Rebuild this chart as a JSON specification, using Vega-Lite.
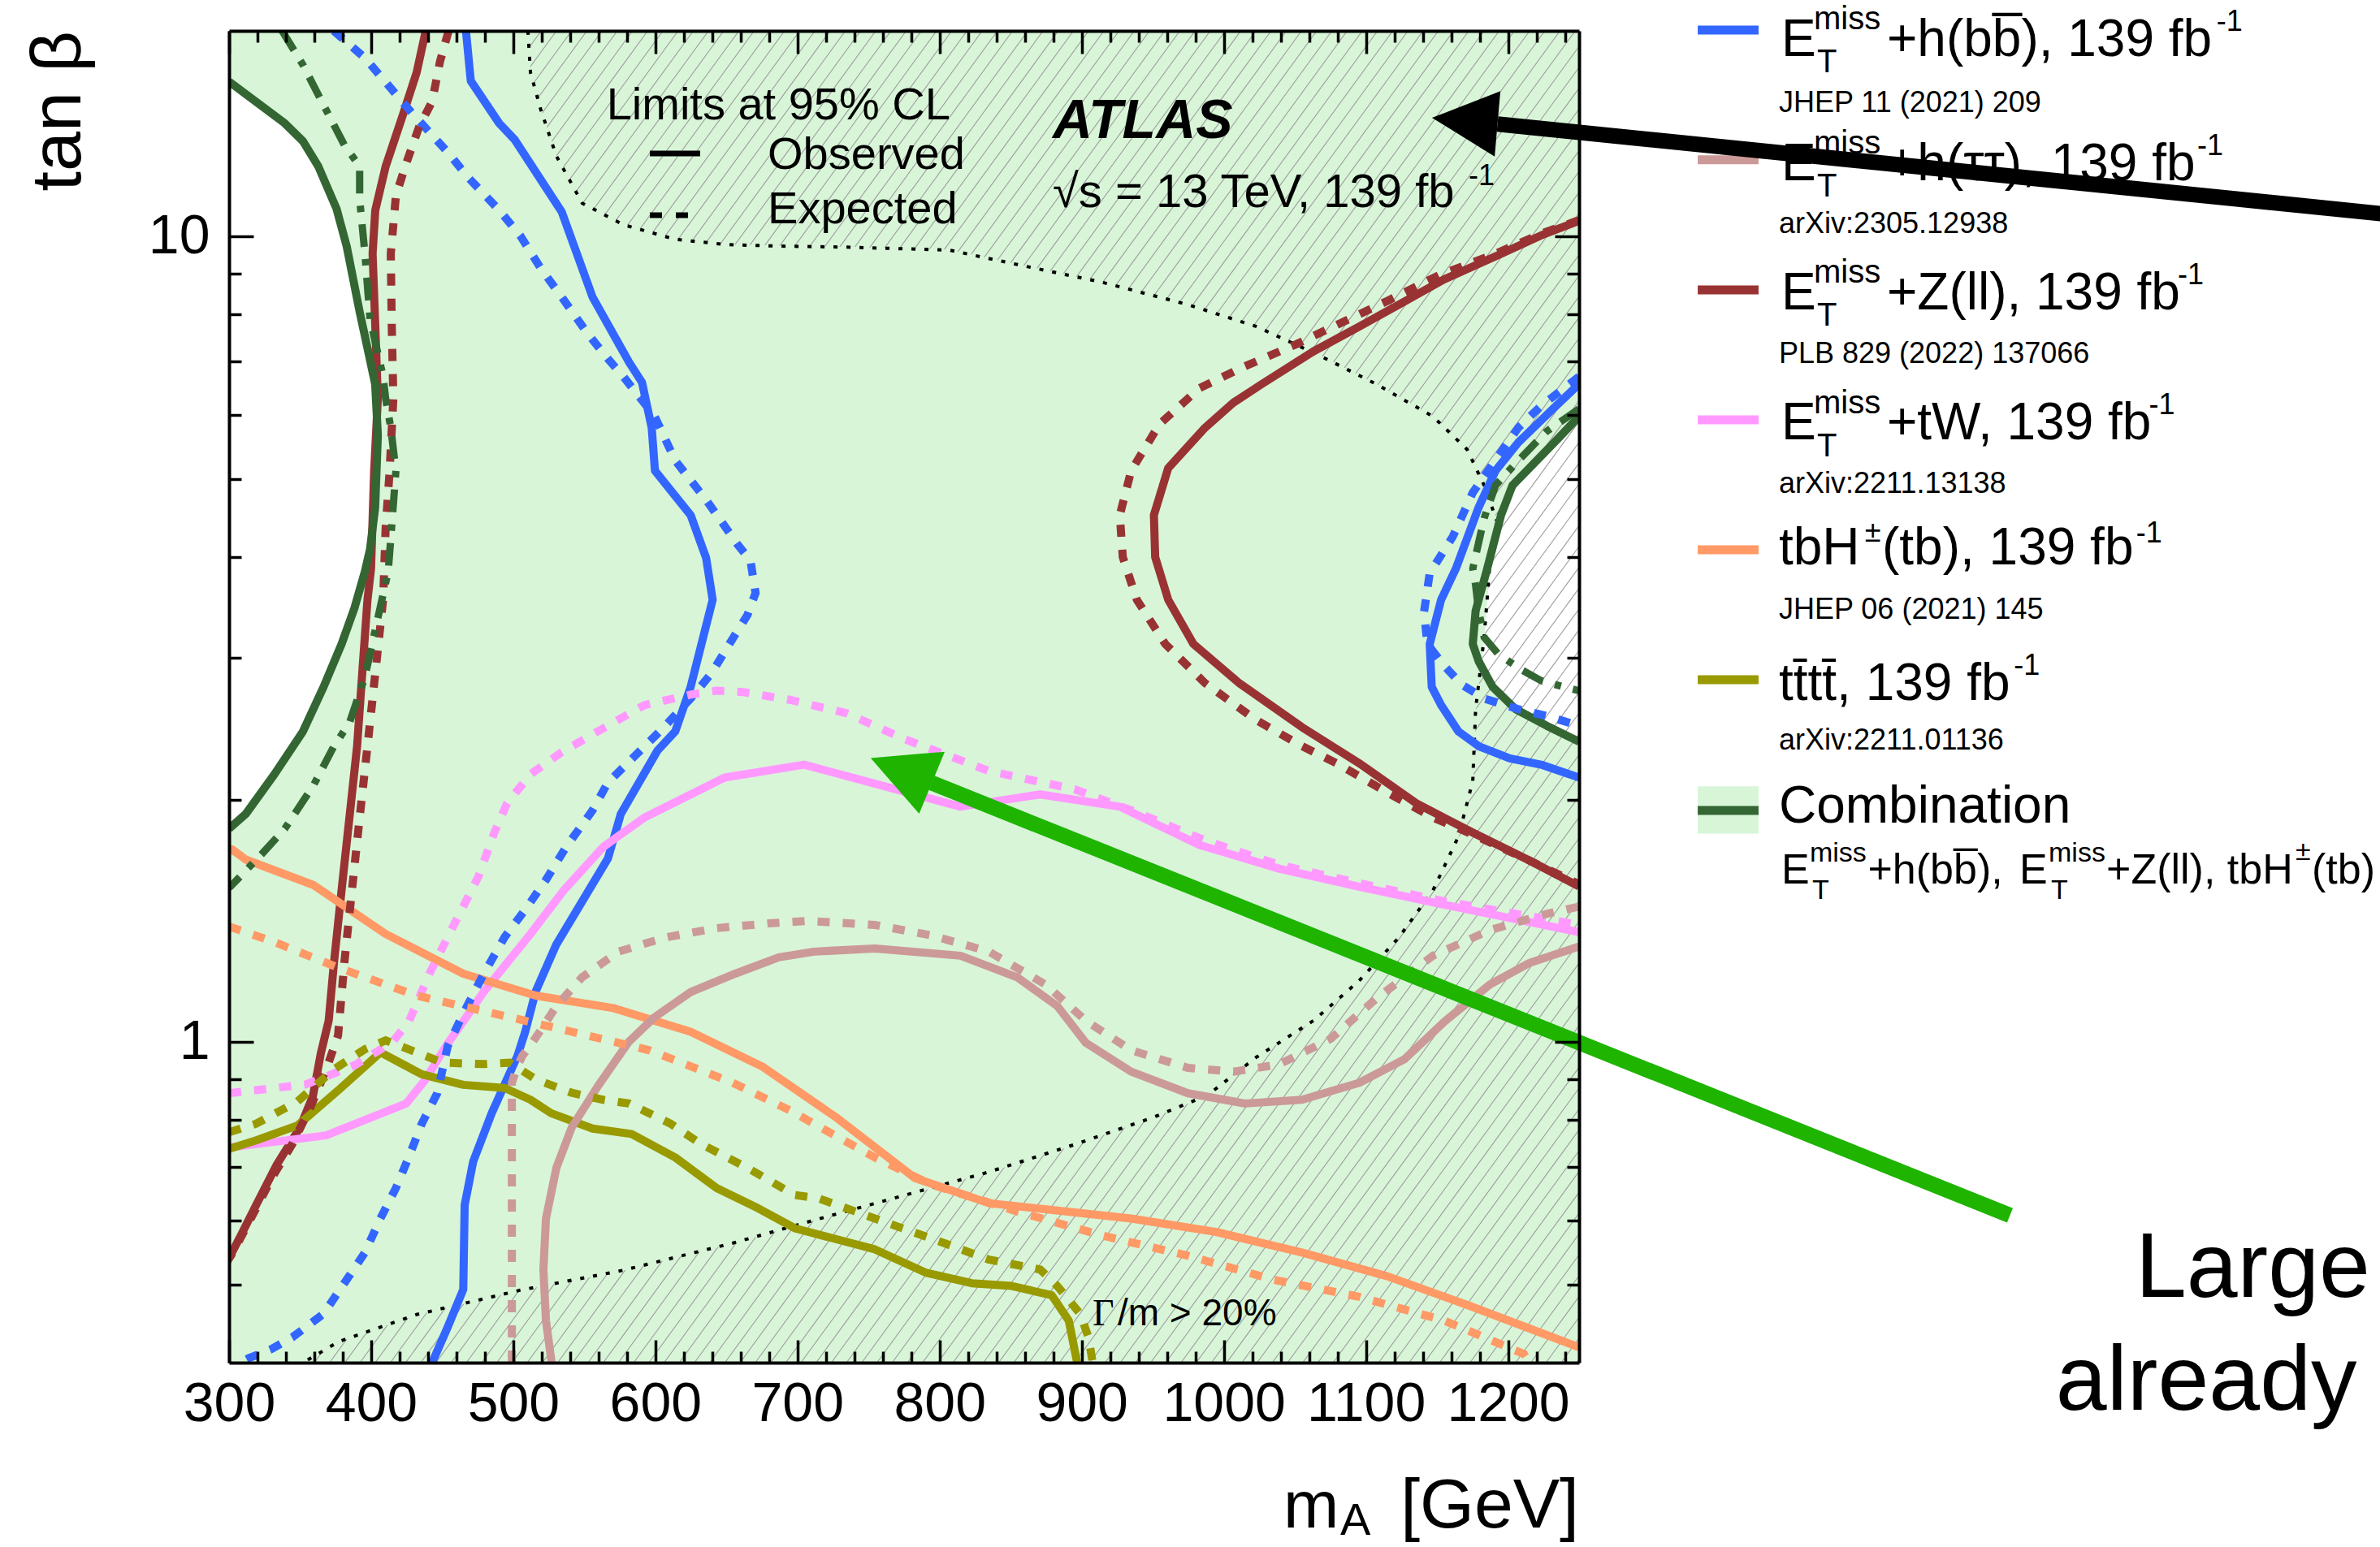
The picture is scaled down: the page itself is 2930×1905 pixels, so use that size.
{
"$schema": "https://vega.github.io/schema/vega-lite/v6.json",
"width": 1662, "height": 1640,
"autosize": {"type": "none"},
"padding": {"left": 282, "top": 38, "right": 986, "bottom": 227},
"background": "white",
"config": {"view": {"fill": "#d8f5d8", "stroke": null}, "font": "Liberation Sans"},
"datasets": {
"c": [
{"g":1,"i":0,"x":466.7,"y":18},{"g":1,"i":1,"x":470.1,"y":15.6},{"g":1,"i":2,"x":490.1,"y":13.82},{"g":1,"i":3,"x":501,"y":13.19},{"g":1,"i":4,"x":534.1,"y":10.73},{"g":1,"i":5,"x":555.8,"y":8.41},{"g":1,"i":6,"x":581.5,"y":6.98},{"g":1,"i":7,"x":590.6,"y":6.59},{"g":1,"i":8,"x":597.4,"y":5.79},{"g":1,"i":9,"x":599.7,"y":5.12},{"g":1,"i":10,"x":624.8,"y":4.51},{"g":1,"i":11,"x":635.7,"y":3.99},{"g":1,"i":12,"x":640.3,"y":3.54},{"g":1,"i":13,"x":624.8,"y":2.76},{"g":1,"i":14,"x":614,"y":2.43},{"g":1,"i":15,"x":601.4,"y":2.3},{"g":1,"i":16,"x":575.7,"y":1.92},{"g":1,"i":17,"x":566.6,"y":1.69},{"g":1,"i":18,"x":530.1,"y":1.32},{"g":1,"i":19,"x":515.8,"y":1.156},{"g":1,"i":20,"x":508.4,"y":1.03},{"g":1,"i":21,"x":503,"y":0.962},{"g":1,"i":22,"x":484.8,"y":0.816},{"g":1,"i":23,"x":471.8,"y":0.711},{"g":1,"i":24,"x":465.8,"y":0.628},{"g":1,"i":25,"x":464.8,"y":0.493},{"g":1,"i":26,"x":453.9,"y":0.443},{"g":1,"i":27,"x":442.9,"y":0.4},
{"g":2,"i":0,"x":1250,"y":6.56},{"g":2,"i":1,"x":1231.2,"y":6.1},{"g":2,"i":2,"x":1207.2,"y":5.55},{"g":2,"i":3,"x":1191.2,"y":5.12},{"g":2,"i":4,"x":1179.3,"y":4.61},{"g":2,"i":5,"x":1163.3,"y":3.87},{"g":2,"i":6,"x":1152.9,"y":3.54},{"g":2,"i":7,"x":1144.9,"y":3.12},{"g":2,"i":8,"x":1146.3,"y":2.76},{"g":2,"i":9,"x":1152.9,"y":2.62},{"g":2,"i":10,"x":1165.1,"y":2.43},{"g":2,"i":11,"x":1179.3,"y":2.33},{"g":2,"i":12,"x":1201.2,"y":2.25},{"g":2,"i":13,"x":1223.2,"y":2.21},{"g":2,"i":14,"x":1250,"y":2.13},
{"g":3,"i":0,"x":373.6,"y":18},{"g":3,"i":1,"x":395.6,"y":16.66},{"g":3,"i":2,"x":428.3,"y":14.26},{"g":3,"i":3,"x":453.9,"y":12.72},{"g":3,"i":4,"x":468.4,"y":11.83},{"g":3,"i":5,"x":490.1,"y":10.78},{"g":3,"i":6,"x":504.8,"y":10.03},{"g":3,"i":7,"x":519.2,"y":9.14},{"g":3,"i":8,"x":534.1,"y":8.41},{"g":3,"i":9,"x":552.2,"y":7.58},{"g":3,"i":10,"x":566.6,"y":7.05},{"g":3,"i":11,"x":577.5,"y":6.7},{"g":3,"i":12,"x":599.5,"y":5.98},{"g":3,"i":13,"x":614,"y":5.27},{"g":3,"i":14,"x":635.7,"y":4.71},{"g":3,"i":15,"x":657.7,"y":4.15},{"g":3,"i":16,"x":666.9,"y":3.96},{"g":3,"i":17,"x":670.5,"y":3.61},{"g":3,"i":18,"x":664.8,"y":3.39},{"g":3,"i":19,"x":654,"y":3.16},{"g":3,"i":20,"x":639.5,"y":2.87},{"g":3,"i":21,"x":624.8,"y":2.67},{"g":3,"i":22,"x":603.1,"y":2.43},{"g":3,"i":23,"x":584.9,"y":2.26},{"g":3,"i":24,"x":566.6,"y":2.1},{"g":3,"i":25,"x":555.8,"y":1.94},{"g":3,"i":26,"x":537.5,"y":1.75},{"g":3,"i":27,"x":523,"y":1.59},{"g":3,"i":28,"x":508.4,"y":1.46},{"g":3,"i":29,"x":493.9,"y":1.35},{"g":3,"i":30,"x":479.3,"y":1.216},{"g":3,"i":31,"x":464.8,"y":1.085},{"g":3,"i":32,"x":453.9,"y":0.989},{"g":3,"i":33,"x":446.5,"y":0.864},{"g":3,"i":34,"x":435.6,"y":0.792},{"g":3,"i":35,"x":426.5,"y":0.72},{"g":3,"i":36,"x":417.4,"y":0.659},{"g":3,"i":37,"x":406.5,"y":0.604},{"g":3,"i":38,"x":395.6,"y":0.548},{"g":3,"i":39,"x":381.1,"y":0.502},{"g":3,"i":40,"x":366.5,"y":0.46},{"g":3,"i":41,"x":344.5,"y":0.43},{"g":3,"i":42,"x":330,"y":0.416},{"g":3,"i":43,"x":313.7,"y":0.405},{"g":3,"i":44,"x":308,"y":0.4},
{"g":4,"i":0,"x":1250,"y":6.7},{"g":4,"i":1,"x":1223.2,"y":6.16},{"g":4,"i":2,"x":1207.2,"y":5.79},{"g":4,"i":3,"x":1187.2,"y":5.16},{"g":4,"i":4,"x":1175.2,"y":4.81},{"g":4,"i":5,"x":1161.1,"y":4.24},{"g":4,"i":6,"x":1144.9,"y":3.82},{"g":4,"i":7,"x":1140.9,"y":3.42},{"g":4,"i":8,"x":1143.2,"y":3.12},{"g":4,"i":9,"x":1155.2,"y":2.93},{"g":4,"i":10,"x":1167.2,"y":2.78},{"g":4,"i":11,"x":1183.2,"y":2.67},{"g":4,"i":12,"x":1207.2,"y":2.59},{"g":4,"i":13,"x":1227.2,"y":2.54},{"g":4,"i":14,"x":1250,"y":2.47},
{"g":5,"i":0,"x":438.4,"y":18},{"g":5,"i":1,"x":432,"y":15.98},{"g":5,"i":2,"x":422.9,"y":14.26},{"g":5,"i":3,"x":410.2,"y":12.22},{"g":5,"i":4,"x":402.9,"y":10.78},{"g":5,"i":5,"x":401,"y":9.52},{"g":5,"i":6,"x":402.9,"y":7.74},{"g":5,"i":7,"x":404.7,"y":6.29},{"g":5,"i":8,"x":402.1,"y":5.12},{"g":5,"i":9,"x":399.9,"y":3.87},{"g":5,"i":10,"x":397.4,"y":3.54},{"g":5,"i":11,"x":393.7,"y":2.87},{"g":5,"i":12,"x":390.1,"y":2.33},{"g":5,"i":13,"x":384.7,"y":1.9},{"g":5,"i":14,"x":379.2,"y":1.545},{"g":5,"i":15,"x":373.8,"y":1.254},{"g":5,"i":16,"x":370.1,"y":1.063},{"g":5,"i":17,"x":364.6,"y":0.969},{"g":5,"i":18,"x":359,"y":0.857},{"g":5,"i":19,"x":350,"y":0.784},{"g":5,"i":20,"x":333.7,"y":0.705},{"g":5,"i":21,"x":319.1,"y":0.628},{"g":5,"i":22,"x":308.2,"y":0.575},{"g":5,"i":23,"x":300.9,"y":0.543},{"g":5,"i":24,"x":298,"y":0.532},
{"g":6,"i":0,"x":1250,"y":10.46},{"g":6,"i":1,"x":1223.2,"y":10.03},{"g":6,"i":2,"x":1195.2,"y":9.52},{"g":6,"i":3,"x":1155.2,"y":8.85},{"g":6,"i":4,"x":1123.2,"y":8.23},{"g":6,"i":5,"x":1095.3,"y":7.73},{"g":6,"i":6,"x":1063,"y":7.2},{"g":6,"i":7,"x":1026.8,"y":6.56},{"g":6,"i":8,"x":1006.8,"y":6.22},{"g":6,"i":9,"x":986.8,"y":5.79},{"g":6,"i":10,"x":960.9,"y":5.16},{"g":6,"i":11,"x":950.8,"y":4.51},{"g":6,"i":12,"x":951.7,"y":4.0},{"g":6,"i":13,"x":960.9,"y":3.54},{"g":6,"i":14,"x":978.6,"y":3.12},{"g":6,"i":15,"x":1010.8,"y":2.79},{"g":6,"i":16,"x":1055,"y":2.46},{"g":6,"i":17,"x":1095.1,"y":2.22},{"g":6,"i":18,"x":1135.2,"y":1.98},{"g":6,"i":19,"x":1175.2,"y":1.82},{"g":6,"i":20,"x":1215.2,"y":1.68},{"g":6,"i":21,"x":1250,"y":1.56},
{"g":7,"i":0,"x":454.5,"y":18},{"g":7,"i":1,"x":448.4,"y":16.48},{"g":7,"i":2,"x":442.9,"y":14.71},{"g":7,"i":3,"x":433.8,"y":13.69},{"g":7,"i":4,"x":424.7,"y":12.33},{"g":7,"i":5,"x":417.4,"y":11.24},{"g":7,"i":6,"x":413.8,"y":9.52},{"g":7,"i":7,"x":414.5,"y":7.74},{"g":7,"i":8,"x":415.6,"y":6.29},{"g":7,"i":9,"x":413,"y":5.12},{"g":7,"i":10,"x":410.2,"y":4.35},{"g":7,"i":11,"x":408.4,"y":3.54},{"g":7,"i":12,"x":402.9,"y":2.87},{"g":7,"i":13,"x":397.4,"y":2.33},{"g":7,"i":14,"x":391.9,"y":1.9},{"g":7,"i":15,"x":386.5,"y":1.545},{"g":7,"i":16,"x":381.1,"y":1.254},{"g":7,"i":17,"x":376.7,"y":1.019},{"g":7,"i":18,"x":368.3,"y":0.924},{"g":7,"i":19,"x":357.4,"y":0.831},{"g":7,"i":20,"x":344.5,"y":0.747},{"g":7,"i":21,"x":330,"y":0.678},{"g":7,"i":22,"x":319.1,"y":0.622},{"g":7,"i":23,"x":302.7,"y":0.548},{"g":7,"i":24,"x":298,"y":0.532},
{"g":8,"i":0,"x":1250,"y":10.48},{"g":8,"i":1,"x":1223.2,"y":10.08},{"g":8,"i":2,"x":1191.2,"y":9.52},{"g":8,"i":3,"x":1151.2,"y":8.95},{"g":8,"i":4,"x":1115.2,"y":8.32},{"g":8,"i":5,"x":1083,"y":7.82},{"g":8,"i":6,"x":1051,"y":7.35},{"g":8,"i":7,"x":1014.8,"y":6.9},{"g":8,"i":8,"x":982.8,"y":6.48},{"g":8,"i":9,"x":954.8,"y":5.85},{"g":8,"i":10,"x":934.8,"y":5.12},{"g":8,"i":11,"x":926.8,"y":4.51},{"g":8,"i":12,"x":928.9,"y":4.0},{"g":8,"i":13,"x":938.8,"y":3.54},{"g":8,"i":14,"x":958.8,"y":3.12},{"g":8,"i":15,"x":986.8,"y":2.79},{"g":8,"i":16,"x":1022.8,"y":2.51},{"g":8,"i":17,"x":1055,"y":2.33},{"g":8,"i":18,"x":1079.1,"y":2.22},{"g":8,"i":19,"x":1115.2,"y":2.04},{"g":8,"i":20,"x":1147.2,"y":1.9},{"g":8,"i":21,"x":1175.2,"y":1.81},{"g":8,"i":22,"x":1215.2,"y":1.68},{"g":8,"i":23,"x":1250,"y":1.57},
{"g":9,"i":0,"x":300,"y":0.74},{"g":9,"i":1,"x":319.1,"y":0.747},{"g":9,"i":2,"x":368.3,"y":0.766},{"g":9,"i":3,"x":424.7,"y":0.839},{"g":9,"i":4,"x":437.9,"y":0.897},{"g":9,"i":5,"x":453.2,"y":0.992},{"g":9,"i":6,"x":462.7,"y":1.048},{"g":9,"i":7,"x":479.3,"y":1.155},{"g":9,"i":8,"x":512.1,"y":1.362},{"g":9,"i":9,"x":535.8,"y":1.545},{"g":9,"i":10,"x":563.2,"y":1.746},{"g":9,"i":11,"x":592.3,"y":1.9},{"g":9,"i":12,"x":648.7,"y":2.13},{"g":9,"i":13,"x":704.6,"y":2.21},{"g":9,"i":14,"x":814.7,"y":1.96},{"g":9,"i":15,"x":870.8,"y":2.03},{"g":9,"i":16,"x":926.8,"y":1.96},{"g":9,"i":17,"x":982.8,"y":1.757},{"g":9,"i":18,"x":1038.8,"y":1.642},{"g":9,"i":19,"x":1095.1,"y":1.559},{"g":9,"i":20,"x":1155.2,"y":1.481},{"g":9,"i":21,"x":1250,"y":1.369},
{"g":10,"i":0,"x":300,"y":0.864},{"g":10,"i":1,"x":354,"y":0.886},{"g":10,"i":2,"x":388.4,"y":0.936},{"g":10,"i":3,"x":415,"y":1.0},{"g":10,"i":4,"x":426.5,"y":1.06},{"g":10,"i":5,"x":441,"y":1.216},{"g":10,"i":6,"x":457.6,"y":1.391},{"g":10,"i":7,"x":475.7,"y":1.608},{"g":10,"i":8,"x":486.7,"y":1.821},{"g":10,"i":9,"x":495.7,"y":1.98},{"g":10,"i":10,"x":512.1,"y":2.15},{"g":10,"i":11,"x":534.1,"y":2.29},{"g":10,"i":12,"x":559.4,"y":2.43},{"g":10,"i":13,"x":592.3,"y":2.62},{"g":10,"i":14,"x":624.8,"y":2.7},{"g":10,"i":15,"x":643.1,"y":2.73},{"g":10,"i":16,"x":661.4,"y":2.72},{"g":10,"i":17,"x":694.5,"y":2.66},{"g":10,"i":18,"x":734.5,"y":2.56},{"g":10,"i":19,"x":774.7,"y":2.38},{"g":10,"i":20,"x":834.8,"y":2.17},{"g":10,"i":21,"x":894.9,"y":2.06},{"g":10,"i":22,"x":934.8,"y":1.94},{"g":10,"i":23,"x":986.8,"y":1.78},{"g":10,"i":24,"x":1038.8,"y":1.66},{"g":10,"i":25,"x":1095.1,"y":1.575},{"g":10,"i":26,"x":1155.2,"y":1.495},{"g":10,"i":27,"x":1250,"y":1.398},
{"g":11,"i":0,"x":300,"y":1.72},{"g":11,"i":1,"x":302,"y":1.735},{"g":11,"i":2,"x":311.8,"y":1.685},{"g":11,"i":3,"x":359.2,"y":1.567},{"g":11,"i":4,"x":410.2,"y":1.362},{"g":11,"i":5,"x":464.8,"y":1.216},{"g":11,"i":6,"x":515.8,"y":1.142},{"g":11,"i":7,"x":570.4,"y":1.102},{"g":11,"i":8,"x":624.8,"y":1.03},{"g":11,"i":9,"x":675.9,"y":0.931},{"g":11,"i":10,"x":726.5,"y":0.808},{"g":11,"i":11,"x":782.7,"y":0.678},{"g":11,"i":12,"x":834.8,"y":0.631},{"g":11,"i":13,"x":934.8,"y":0.604},{"g":11,"i":14,"x":994.8,"y":0.581},{"g":11,"i":15,"x":1055,"y":0.548},{"g":11,"i":16,"x":1115.1,"y":0.512},{"g":11,"i":17,"x":1175.2,"y":0.469},{"g":11,"i":18,"x":1250,"y":0.418},
{"g":12,"i":0,"x":300,"y":1.391},{"g":12,"i":1,"x":330,"y":1.335},{"g":12,"i":2,"x":377.4,"y":1.236},{"g":12,"i":3,"x":432,"y":1.142},{"g":12,"i":4,"x":486.6,"y":1.085},{"g":12,"i":5,"x":541.2,"y":1.03},{"g":12,"i":6,"x":595.8,"y":0.977},{"g":12,"i":7,"x":654.5,"y":0.89},{"g":12,"i":8,"x":694.5,"y":0.823},{"g":12,"i":9,"x":754.4,"y":0.719},{"g":12,"i":10,"x":794.7,"y":0.665},{"g":12,"i":11,"x":854.8,"y":0.616},{"g":12,"i":12,"x":914.9,"y":0.575},{"g":12,"i":13,"x":974.8,"y":0.543},{"g":12,"i":14,"x":1035,"y":0.507},{"g":12,"i":15,"x":1095,"y":0.483},{"g":12,"i":16,"x":1155.2,"y":0.451},{"g":12,"i":17,"x":1211.2,"y":0.41},{"g":12,"i":18,"x":1215.2,"y":0.4},
{"g":13,"i":0,"x":300,"y":0.737},{"g":13,"i":1,"x":319.1,"y":0.755},{"g":13,"i":2,"x":348.2,"y":0.788},{"g":13,"i":3,"x":377.4,"y":0.873},{"g":13,"i":4,"x":406.5,"y":0.971},{"g":13,"i":5,"x":435.6,"y":0.912},{"g":13,"i":6,"x":464.8,"y":0.885},{"g":13,"i":7,"x":493.9,"y":0.877},{"g":13,"i":8,"x":512.1,"y":0.848},{"g":13,"i":9,"x":526.7,"y":0.816},{"g":13,"i":10,"x":555.8,"y":0.781},{"g":13,"i":11,"x":583.2,"y":0.769},{"g":13,"i":12,"x":614,"y":0.719},{"g":13,"i":13,"x":643.1,"y":0.659},{"g":13,"i":14,"x":672.2,"y":0.622},{"g":13,"i":15,"x":698.5,"y":0.587},{"g":13,"i":16,"x":754.4,"y":0.553},{"g":13,"i":17,"x":790.7,"y":0.517},{"g":13,"i":18,"x":822.7,"y":0.502},{"g":13,"i":19,"x":850.7,"y":0.498},{"g":13,"i":20,"x":878.9,"y":0.485},{"g":13,"i":21,"x":890.9,"y":0.451},{"g":13,"i":22,"x":896.8,"y":0.4},
{"g":14,"i":0,"x":300,"y":0.773},{"g":14,"i":1,"x":319.1,"y":0.792},{"g":14,"i":2,"x":348.2,"y":0.844},{"g":14,"i":3,"x":373.8,"y":0.925},{"g":14,"i":4,"x":395.6,"y":0.98},{"g":14,"i":5,"x":410.2,"y":1.005},{"g":14,"i":6,"x":432,"y":0.971},{"g":14,"i":7,"x":450.1,"y":0.943},{"g":14,"i":8,"x":479.3,"y":0.939},{"g":14,"i":9,"x":497.5,"y":0.943},{"g":14,"i":10,"x":515.8,"y":0.899},{"g":14,"i":11,"x":541.2,"y":0.865},{"g":14,"i":12,"x":563.2,"y":0.848},{"g":14,"i":13,"x":581.5,"y":0.839},{"g":14,"i":14,"x":610.6,"y":0.792},{"g":14,"i":15,"x":632.3,"y":0.747},{"g":14,"i":16,"x":664.8,"y":0.698},{"g":14,"i":17,"x":697.8,"y":0.646},{"g":14,"i":18,"x":714.5,"y":0.64},{"g":14,"i":19,"x":754.4,"y":0.604},{"g":14,"i":20,"x":794.7,"y":0.57},{"g":14,"i":21,"x":834.8,"y":0.537},{"g":14,"i":22,"x":870.8,"y":0.522},{"g":14,"i":23,"x":882.8,"y":0.498},{"g":14,"i":24,"x":898.9,"y":0.46},{"g":14,"i":25,"x":904.8,"y":0.43},{"g":14,"i":26,"x":907.7,"y":0.4},
{"g":15,"i":0,"x":527,"y":0.4},{"g":15,"i":1,"x":523,"y":0.451},{"g":15,"i":2,"x":521.2,"y":0.522},{"g":15,"i":3,"x":523,"y":0.604},{"g":15,"i":4,"x":530.3,"y":0.698},{"g":15,"i":5,"x":541.2,"y":0.784},{"g":15,"i":6,"x":559.4,"y":0.881},{"g":15,"i":7,"x":581.3,"y":1.001},{"g":15,"i":8,"x":599.5,"y":1.074},{"g":15,"i":9,"x":624.8,"y":1.154},{"g":15,"i":10,"x":656.2,"y":1.216},{"g":15,"i":11,"x":686.8,"y":1.274},{"g":15,"i":12,"x":711.6,"y":1.295},{"g":15,"i":13,"x":754.4,"y":1.307},{"g":15,"i":14,"x":814.7,"y":1.28},{"g":15,"i":15,"x":854.8,"y":1.203},{"g":15,"i":16,"x":882.9,"y":1.108},{"g":15,"i":17,"x":902.9,"y":0.998},{"g":15,"i":18,"x":934.8,"y":0.919},{"g":15,"i":19,"x":974.8,"y":0.864},{"g":15,"i":20,"x":1014.8,"y":0.839},{"g":15,"i":21,"x":1055,"y":0.848},{"g":15,"i":22,"x":1095.1,"y":0.89},{"g":15,"i":23,"x":1127.1,"y":0.952},{"g":15,"i":24,"x":1155.2,"y":1.06},{"g":15,"i":25,"x":1187.2,"y":1.179},{"g":15,"i":26,"x":1215.2,"y":1.254},{"g":15,"i":27,"x":1250,"y":1.314},
{"g":16,"i":0,"x":499,"y":0.4},{"g":16,"i":1,"x":499,"y":0.548},{"g":16,"i":2,"x":499,"y":0.733},{"g":16,"i":3,"x":499,"y":0.89},{"g":16,"i":4,"x":503,"y":0.935},{"g":16,"i":5,"x":506.5,"y":0.962},{"g":16,"i":6,"x":512,"y":0.99},{"g":16,"i":7,"x":519.2,"y":1.034},{"g":16,"i":8,"x":530.3,"y":1.108},{"g":16,"i":9,"x":548.3,"y":1.203},{"g":16,"i":10,"x":574,"y":1.295},{"g":16,"i":11,"x":606.6,"y":1.348},{"g":16,"i":12,"x":643.1,"y":1.385},{"g":16,"i":13,"x":679.6,"y":1.404},{"g":16,"i":14,"x":706.5,"y":1.414},{"g":16,"i":15,"x":754.4,"y":1.398},{"g":16,"i":16,"x":794.7,"y":1.356},{"g":16,"i":17,"x":834.8,"y":1.295},{"g":16,"i":18,"x":874.8,"y":1.178},{"g":16,"i":19,"x":902.9,"y":1.063},{"g":16,"i":20,"x":934.8,"y":0.977},{"g":16,"i":21,"x":974.8,"y":0.929},{"g":16,"i":22,"x":1006.8,"y":0.919},{"g":16,"i":23,"x":1038.8,"y":0.938},{"g":16,"i":24,"x":1075.1,"y":1.009},{"g":16,"i":25,"x":1107.2,"y":1.132},{"g":16,"i":26,"x":1147.2,"y":1.28},{"g":16,"i":27,"x":1187.2,"y":1.377},{"g":16,"i":28,"x":1227.2,"y":1.443},{"g":16,"i":29,"x":1250,"y":1.473},
{"g":17,"i":0,"x":300,"y":15.57},{"g":17,"i":1,"x":339.2,"y":13.82},{"g":17,"i":2,"x":352,"y":13.13},{"g":17,"i":3,"x":362.8,"y":12.22},{"g":17,"i":4,"x":375.6,"y":10.83},{"g":17,"i":5,"x":382.8,"y":9.72},{"g":17,"i":6,"x":391.9,"y":8.06},{"g":17,"i":7,"x":397.4,"y":7.27},{"g":17,"i":8,"x":402.8,"y":6.56},{"g":17,"i":9,"x":404.7,"y":5.67},{"g":17,"i":10,"x":402.8,"y":4.61},{"g":17,"i":11,"x":399.2,"y":4.09},{"g":17,"i":12,"x":395.6,"y":3.84},{"g":17,"i":13,"x":388.3,"y":3.46},{"g":17,"i":14,"x":379.2,"y":3.12},{"g":17,"i":15,"x":366.5,"y":2.76},{"g":17,"i":16,"x":352,"y":2.43},{"g":17,"i":17,"x":331.9,"y":2.15},{"g":17,"i":18,"x":311.8,"y":1.92},{"g":17,"i":19,"x":300,"y":1.84},
{"g":18,"i":0,"x":1250,"y":5.98},{"g":18,"i":1,"x":1235.1,"y":5.61},{"g":18,"i":2,"x":1215.1,"y":5.16},{"g":18,"i":3,"x":1203.1,"y":4.91},{"g":18,"i":4,"x":1195.1,"y":4.51},{"g":18,"i":5,"x":1185,"y":3.85},{"g":18,"i":6,"x":1177.2,"y":3.43},{"g":18,"i":7,"x":1175.2,"y":3.12},{"g":18,"i":8,"x":1179.3,"y":2.97},{"g":18,"i":9,"x":1189.2,"y":2.76},{"g":18,"i":10,"x":1205.3,"y":2.59},{"g":18,"i":11,"x":1227.2,"y":2.47},{"g":18,"i":12,"x":1250,"y":2.36},
{"g":19,"i":0,"x":337.3,"y":18},{"g":19,"i":1,"x":352,"y":16.33},{"g":19,"i":2,"x":366.5,"y":14.56},{"g":19,"i":3,"x":381.1,"y":12.99},{"g":19,"i":4,"x":391.9,"y":12.22},{"g":19,"i":5,"x":391.9,"y":11.12},{"g":19,"i":6,"x":395.6,"y":9.52},{"g":19,"i":7,"x":399.2,"y":7.9},{"g":19,"i":8,"x":408.4,"y":6.7},{"g":19,"i":9,"x":410.2,"y":6.29},{"g":19,"i":10,"x":413.8,"y":5.79},{"g":19,"i":11,"x":417.4,"y":5.12},{"g":19,"i":12,"x":414.5,"y":4.38},{"g":19,"i":13,"x":412,"y":3.84},{"g":19,"i":14,"x":402.9,"y":3.25},{"g":19,"i":15,"x":395.6,"y":2.84},{"g":19,"i":16,"x":384.7,"y":2.49},{"g":19,"i":17,"x":373.8,"y":2.33},{"g":19,"i":18,"x":359.2,"y":2.08},{"g":19,"i":19,"x":339.2,"y":1.84},{"g":19,"i":20,"x":322.8,"y":1.71},{"g":19,"i":21,"x":301,"y":1.56},{"g":19,"i":22,"x":298,"y":1.55},
{"g":20,"i":0,"x":1250,"y":6.11},{"g":20,"i":1,"x":1227.2,"y":5.73},{"g":20,"i":2,"x":1207.2,"y":5.27},{"g":20,"i":3,"x":1191.2,"y":4.91},{"g":20,"i":4,"x":1183.2,"y":4.47},{"g":20,"i":5,"x":1175.2,"y":3.87},{"g":20,"i":6,"x":1177.2,"y":3.69},{"g":20,"i":7,"x":1179.3,"y":3.43},{"g":20,"i":8,"x":1183.2,"y":3.18},{"g":20,"i":9,"x":1193.2,"y":3.03},{"g":20,"i":10,"x":1209.2,"y":2.9},{"g":20,"i":11,"x":1223.2,"y":2.81},{"g":20,"i":12,"x":1239.2,"y":2.76},{"g":20,"i":13,"x":1250,"y":2.73},
{"g":21,"i":0,"x":510.3,"y":18},{"g":21,"i":1,"x":512.1,"y":15.98},{"g":21,"i":2,"x":519.2,"y":14.4},{"g":21,"i":3,"x":530.3,"y":12.59},{"g":21,"i":4,"x":548.5,"y":11.0},{"g":21,"i":5,"x":577.6,"y":10.34},{"g":21,"i":6,"x":614,"y":9.92},{"g":21,"i":7,"x":650.5,"y":9.77},{"g":21,"i":8,"x":686.8,"y":9.73},{"g":21,"i":9,"x":734.6,"y":9.7},{"g":21,"i":10,"x":806.7,"y":9.62},{"g":21,"i":11,"x":854.8,"y":9.23},{"g":21,"i":12,"x":914.9,"y":8.77},{"g":21,"i":13,"x":974.8,"y":8.23},{"g":21,"i":14,"x":1023,"y":7.73},{"g":21,"i":15,"x":1067.1,"y":7.12},{"g":21,"i":16,"x":1107.1,"y":6.56},{"g":21,"i":17,"x":1147.1,"y":5.98},{"g":21,"i":18,"x":1171.2,"y":5.44},{"g":21,"i":19,"x":1183.2,"y":4.91},{"g":21,"i":20,"x":1193.2,"y":4.38},{"g":21,"i":21,"x":1187.2,"y":3.92},{"g":21,"i":22,"x":1183.2,"y":3.18},{"g":21,"i":23,"x":1177.2,"y":2.59},{"g":21,"i":24,"x":1175.2,"y":2.11},{"g":21,"i":25,"x":1165.1,"y":1.8},{"g":21,"i":26,"x":1147.2,"y":1.543},{"g":21,"i":27,"x":1123.1,"y":1.348},{"g":21,"i":28,"x":1095.1,"y":1.191},{"g":21,"i":29,"x":1063,"y":1.063},{"g":21,"i":30,"x":1023,"y":0.958},{"g":21,"i":31,"x":988.5,"y":0.859},{"g":21,"i":32,"x":950.8,"y":0.807},{"g":21,"i":33,"x":894.9,"y":0.746},{"g":21,"i":34,"x":834.8,"y":0.69},{"g":21,"i":35,"x":774.7,"y":0.645},{"g":21,"i":36,"x":714.5,"y":0.603},{"g":21,"i":37,"x":654.5,"y":0.563},{"g":21,"i":38,"x":577.6,"y":0.521},{"g":21,"i":39,"x":504.8,"y":0.492},{"g":21,"i":40,"x":432,"y":0.459},{"g":21,"i":41,"x":377.4,"y":0.425},{"g":21,"i":42,"x":352,"y":0.4},
{"g":22,"i":-1,"x":300,"y":18},{"g":22,"i":43,"x":300,"y":0.4}
],
"h": [
{"a":-175,"b":509},{"a":-164.3,"b":519.7},{"a":-153.6,"b":530.4},{"a":-142.9,"b":541.1},{"a":-132.2,"b":551.8},{"a":-121.5,"b":562.5},{"a":-110.8,"b":573.2},{"a":-100.1,"b":583.9},{"a":-89.4,"b":594.6},{"a":-78.7,"b":605.3},{"a":-68,"b":616},{"a":-57.3,"b":626.7},{"a":-46.6,"b":637.4},{"a":-35.9,"b":648.1},{"a":-25.2,"b":658.8},{"a":-14.5,"b":669.5},{"a":-3.8,"b":680.2},{"a":6.9,"b":690.9},{"a":17.6,"b":701.6},{"a":28.3,"b":712.3},{"a":39,"b":723},{"a":49.7,"b":733.7},{"a":60.4,"b":744.4},{"a":71.1,"b":755.1},{"a":81.8,"b":765.8},{"a":92.5,"b":776.5},{"a":103.2,"b":787.2},{"a":113.9,"b":797.9},{"a":124.6,"b":808.6},{"a":135.3,"b":819.3},{"a":146,"b":830},{"a":156.7,"b":840.7},{"a":167.4,"b":851.4},{"a":178.1,"b":862.1},{"a":188.8,"b":872.8},{"a":199.5,"b":883.5},{"a":210.2,"b":894.2},{"a":220.9,"b":904.9},{"a":231.6,"b":915.6},{"a":242.3,"b":926.3},{"a":253,"b":937},{"a":263.7,"b":947.7},{"a":274.4,"b":958.4},{"a":285.1,"b":969.1},{"a":295.8,"b":979.8},{"a":306.5,"b":990.5},{"a":317.2,"b":1001.2},{"a":327.9,"b":1011.9},{"a":338.6,"b":1022.6},{"a":349.3,"b":1033.3},{"a":360,"b":1044},{"a":370.7,"b":1054.7},{"a":381.4,"b":1065.4},{"a":392.1,"b":1076.1},{"a":402.8,"b":1086.8},{"a":413.5,"b":1097.5},{"a":424.2,"b":1108.2},{"a":434.9,"b":1118.9},{"a":445.6,"b":1129.6},{"a":456.3,"b":1140.3},{"a":467,"b":1151},{"a":477.7,"b":1161.7},{"a":488.4,"b":1172.4},{"a":499.1,"b":1183.1},{"a":509.8,"b":1193.8},{"a":520.5,"b":1204.5},{"a":531.2,"b":1215.2},{"a":541.9,"b":1225.9},{"a":552.6,"b":1236.6},{"a":563.3,"b":1247.3},{"a":574,"b":1258},{"a":584.7,"b":1268.7},{"a":595.4,"b":1279.4},{"a":606.1,"b":1290.1},{"a":616.8,"b":1300.8},{"a":627.5,"b":1311.5},{"a":638.2,"b":1322.2},{"a":648.9,"b":1332.9},{"a":659.6,"b":1343.6},{"a":670.3,"b":1354.3},{"a":681,"b":1365},{"a":691.7,"b":1375.7},{"a":702.4,"b":1386.4},{"a":713.1,"b":1397.1},{"a":723.8,"b":1407.8},{"a":734.5,"b":1418.5},{"a":745.2,"b":1429.2},{"a":755.9,"b":1439.9},{"a":766.6,"b":1450.6},{"a":777.3,"b":1461.3},{"a":788,"b":1472},{"a":798.7,"b":1482.7},{"a":809.4,"b":1493.4},{"a":820.1,"b":1504.1},{"a":830.8,"b":1514.8},{"a":841.5,"b":1525.5},{"a":852.2,"b":1536.2},{"a":862.9,"b":1546.9},{"a":873.6,"b":1557.6},{"a":884.3,"b":1568.3},{"a":895,"b":1579},{"a":905.7,"b":1589.7},{"a":916.4,"b":1600.4},{"a":927.1,"b":1611.1},{"a":937.8,"b":1621.8},{"a":948.5,"b":1632.5},{"a":959.2,"b":1643.2},{"a":969.9,"b":1653.9},{"a":980.6,"b":1664.6},{"a":991.3,"b":1675.3},{"a":1002,"b":1686},{"a":1012.7,"b":1696.7},{"a":1023.4,"b":1707.4},{"a":1034.1,"b":1718.1},{"a":1044.8,"b":1728.8},{"a":1055.5,"b":1739.5},{"a":1066.2,"b":1750.2},{"a":1076.9,"b":1760.9},{"a":1087.6,"b":1771.6},{"a":1098.3,"b":1782.3},{"a":1109,"b":1793},{"a":1119.7,"b":1803.7},{"a":1130.4,"b":1814.4},{"a":1141.1,"b":1825.1},{"a":1151.8,"b":1835.8},{"a":1162.5,"b":1846.5},{"a":1173.2,"b":1857.2},{"a":1183.9,"b":1867.9},{"a":1194.6,"b":1878.6},{"a":1205.3,"b":1889.3},{"a":1216,"b":1900},{"a":1226.7,"b":1910.7},{"a":1237.4,"b":1921.4},{"a":1248.1,"b":1932.1}
]
},
"layer": [
{"data": {"name": "c"}, "transform": [{"filter": {"field": "g", "equal": 18}}],
 "mark": {"type": "line", "color": "white", "fill": "white", "strokeWidth": 1, "clip": true},
 "encoding": {
  "x": {"field": "x", "type": "quantitative", "scale": {"domain": [300, 1250], "nice": false, "zero": false}, "axis": null},
  "y": {"field": "y", "type": "quantitative", "scale": {"type": "log", "domain": [0.4, 18], "nice": false}, "axis": null},
  "order": {"field": "i", "type": "quantitative"}}},
{"data": {"name": "h"},
 "mark": {"type": "rule", "color": "#9c9c9c", "strokeWidth": 1.1, "clip": true},
 "encoding": {
  "x": {"field": "a", "type": "quantitative", "axis": {"orient": "top", "values": [320,340,360,380,420,440,460,480,520,540,560,580,620,640,660,680,720,740,760,780,820,840,860,880,920,940,960,980,1020,1040,1060,1080,1120,1140,1160,1180,1220,1240], "tickSize": -14, "tickWidth": 3.5, "tickColor": "black", "domain": false, "labels": false, "grid": false, "title": null, "zindex": 1}},
  "x2": {"field": "b"},
  "y": {"datum": 0.4, "type": "quantitative", "axis": {"orient": "right", "values": [0.5,0.6,0.7,0.8,0.9,2,3,4,5,6,7,8,9], "tickSize": -15, "tickWidth": 3.5, "tickColor": "black", "domain": false, "labels": false, "grid": false, "title": null, "zindex": 1}},
  "y2": {"datum": 18}}},
{"data": {"name": "c"}, "transform": [{"filter": {"field": "g", "oneOf": [21, 22]}}],
 "mark": {"type": "line", "color": "#d8f5d8", "fill": "#d8f5d8", "strokeWidth": 1, "clip": true},
 "encoding": {
  "x": {"field": "x", "type": "quantitative", "axis": null},
  "y": {"field": "y", "type": "quantitative", "axis": null},
  "order": {"field": "i", "type": "quantitative"}}},
{"data": {"name": "c"}, "transform": [{"filter": {"field": "g", "equal": 17}}],
 "mark": {"type": "line", "color": "white", "fill": "white", "strokeWidth": 1, "clip": true},
 "encoding": {
  "x": {"field": "x", "type": "quantitative", "axis": null},
  "y": {"field": "y", "type": "quantitative", "axis": null},
  "order": {"field": "i", "type": "quantitative"}}},
{"data": {"name": "c"}, "transform": [{"filter": {"field": "g", "equal": 21}}],
 "mark": {"type": "line", "color": "black", "strokeWidth": 4, "strokeDash": [5, 11], "clip": true},
 "encoding": {
  "x": {"field": "x", "type": "quantitative", "axis": {"orient": "top", "values": [300,400,500,600,700,800,900,1000,1100,1200], "tickSize": -28, "tickWidth": 3.5, "tickColor": "black", "domain": true, "domainWidth": 4, "domainColor": "black", "labels": false, "grid": false, "title": null, "zindex": 1}},
  "y": {"field": "y", "type": "quantitative", "axis": {"orient": "right", "values": [1, 10], "tickSize": -30, "tickWidth": 3.5, "tickColor": "black", "domain": true, "domainWidth": 4, "domainColor": "black", "labels": false, "grid": false, "title": null, "zindex": 1}},
  "order": {"field": "i", "type": "quantitative"}}},
{"data": {"name": "c"}, "transform": [{"filter": {"field": "g", "oneOf": [1,2,5,6,9,11,13,15,17,18]}}],
 "mark": {"type": "line", "strokeWidth": 10, "strokeJoin": "round", "clip": true},
 "encoding": {
  "x": {"field": "x", "type": "quantitative", "axis": {"orient": "bottom", "values": [300,400,500,600,700,800,900,1000,1100,1200], "format": "d", "tickSize": -28, "tickWidth": 3.5, "tickColor": "black", "domain": true, "domainWidth": 4, "domainColor": "black", "labelFont": "Liberation Sans", "labelFontSize": 68, "labelColor": "black", "labelPadding": 45, "labelFlush": false, "labelOverlap": false, "grid": false, "title": null, "zindex": 1}},
  "y": {"field": "y", "type": "quantitative", "axis": {"orient": "left", "values": [1, 10], "format": "d", "tickSize": -30, "tickWidth": 3.5, "tickColor": "black", "domain": true, "domainWidth": 4, "domainColor": "black", "labelFont": "Liberation Sans", "labelFontSize": 68, "labelColor": "black", "labelPadding": 54, "labelFlush": false, "labelOverlap": false, "grid": false, "title": null, "zindex": 1}},
  "color": {"field": "g", "type": "nominal", "legend": null, "scale": {"domain": [1,2,3,4,5,6,7,8,9,10,11,12,13,14,15,16,17,18,19,20,21], "range": ["#3366ff","#3366ff","#3366ff","#3366ff","#993333","#993333","#993333","#993333","#ff99ff","#ff99ff","#ff9966","#ff9966","#999900","#999900","#cc9999","#cc9999","#336633","#336633","#336633","#336633","#000000"]}},
  "order": {"field": "i", "type": "quantitative"}}},
{"data": {"name": "c"}, "transform": [{"filter": {"field": "g", "oneOf": [3,4,7,8,10,12,14,16]}}],
 "mark": {"type": "line", "strokeWidth": 10, "strokeDash": [15, 16], "clip": true},
 "encoding": {
  "x": {"field": "x", "type": "quantitative", "axis": {"orient": "bottom", "values": [320,340,360,380,420,440,460,480,520,540,560,580,620,640,660,680,720,740,760,780,820,840,860,880,920,940,960,980,1020,1040,1060,1080,1120,1140,1160,1180,1220,1240], "tickSize": -14, "tickWidth": 3.5, "tickColor": "black", "domain": false, "labels": false, "grid": false, "title": null, "zindex": 1}},
  "y": {"field": "y", "type": "quantitative", "axis": {"orient": "left", "values": [0.5,0.6,0.7,0.8,0.9,2,3,4,5,6,7,8,9], "tickSize": -15, "tickWidth": 3.5, "tickColor": "black", "domain": false, "labels": false, "grid": false, "title": null, "zindex": 1}},
  "color": {"field": "g", "type": "nominal", "legend": null},
  "order": {"field": "i", "type": "quantitative"}}},
{"data": {"name": "c"}, "transform": [{"filter": {"field": "g", "oneOf": [19,20]}}],
 "mark": {"type": "line", "strokeWidth": 9, "strokeDash": [28, 15, 8, 15], "clip": true},
 "encoding": {
  "x": {"field": "x", "type": "quantitative", "axis": null},
  "y": {"field": "y", "type": "quantitative", "axis": null},
  "color": {"field": "g", "type": "nominal", "legend": null},
  "order": {"field": "i", "type": "quantitative"}}},
{"data": {"values": [{}]},
 "mark": {"type": "rule", "color": "black", "strokeWidth": 7},
 "encoding": {"x": {"datum": 596.1, "type": "quantitative", "axis": null}, "x2": {"datum": 631.5}, "y": {"datum": 12.68, "type": "quantitative", "axis": null}}},
{"data": {"values": [{}]},
 "mark": {"type": "rule", "color": "black", "strokeWidth": 7, "strokeDash": [15, 17]},
 "encoding": {"x": {"datum": 596.1, "type": "quantitative", "axis": null}, "x2": {"datum": 623.0}, "y": {"datum": 10.63, "type": "quantitative", "axis": null}}},
{"data": {"values": [
  {"t": "Limits at 95% CL", "x": 565.6, "y": 13.99},
  {"t": "Observed", "x": 679.0, "y": 12.12},
  {"t": "Expected", "x": 679.0, "y": 10.38}]},
 "mark": {"type": "text", "font": "Liberation Sans", "fontSize": 56, "align": "left", "baseline": "alphabetic", "color": "black"},
 "encoding": {"x": {"field": "x", "type": "quantitative", "axis": null}, "y": {"field": "y", "type": "quantitative", "axis": null}, "text": {"field": "t"}}},
{"data": {"values": [{"t": "\u221as = 13 TeV, 139 fb", "x": 879.6, "y": 10.89}]},
 "mark": {"type": "text", "font": "Liberation Sans", "fontSize": 58, "align": "left", "baseline": "alphabetic", "color": "black"},
 "encoding": {"x": {"field": "x", "type": "quantitative", "axis": null}, "y": {"field": "y", "type": "quantitative", "axis": null}, "text": {"field": "t"}}},
{"data": {"values": [{"t": "ATLAS", "x": 879.6, "y": 13.25}]},
 "mark": {"type": "text", "font": "Liberation Sans", "fontSize": 68, "fontWeight": "bold", "fontStyle": "italic", "align": "left", "baseline": "alphabetic", "color": "black"},
 "encoding": {"x": {"field": "x", "type": "quantitative", "axis": null}, "y": {"field": "y", "type": "quantitative", "axis": null}, "text": {"field": "t"}}},
{"data": {"values": [{"t": "\u0393", "x": 907.6, "y": 0.445}]},
 "mark": {"type": "text", "font": "Liberation Serif", "fontSize": 46, "align": "left", "baseline": "alphabetic", "color": "black"},
 "encoding": {"x": {"field": "x", "type": "quantitative", "axis": null}, "y": {"field": "y", "type": "quantitative", "axis": null}, "text": {"field": "t"}}},
{"data": {"values": [{"t": "/m > 20%", "x": 925.3, "y": 0.445}]},
 "mark": {"type": "text", "font": "Liberation Sans", "fontSize": 46, "align": "left", "baseline": "alphabetic", "color": "black"},
 "encoding": {"x": {"field": "x", "type": "quantitative", "axis": null}, "y": {"field": "y", "type": "quantitative", "axis": null}, "text": {"field": "t"}}},
{"data": {"values": [{"g": 1, "y": 18.04}, {"g": 15, "y": 12.45}, {"g": 5, "y": 8.585}, {"g": 9, "y": 5.92}, {"g": 11, "y": 4.085}, {"g": 13, "y": 2.818}]},
 "mark": {"type": "rule", "strokeWidth": 11},
 "encoding": {"x": {"datum": 1333.5, "type": "quantitative", "axis": null}, "x2": {"datum": 1376.3}, "y": {"field": "y", "type": "quantitative", "axis": null}, "color": {"field": "g", "type": "nominal", "legend": null}}},
{"data": {"values": [{}]},
 "mark": {"type": "rect", "color": "#d8f5d8"},
 "encoding": {"x": {"datum": 1333.5, "type": "quantitative", "axis": null}, "x2": {"datum": 1376.3}, "y": {"datum": 2.078, "type": "quantitative", "axis": null}, "y2": {"datum": 1.815}}},
{"data": {"values": [{}]},
 "mark": {"type": "rule", "color": "#336633", "strokeWidth": 11},
 "encoding": {"x": {"datum": 1333.5, "type": "quantitative", "axis": null}, "x2": {"datum": 1376.3}, "y": {"datum": 1.939, "type": "quantitative", "axis": null}}},
{"data": {"values": [
  {"t": "E", "x": 1392.3, "y": 16.75}, {"t": "+h(bb\u0305), 139 fb", "x": 1466.6, "y": 16.75},
  {"t": "E", "x": 1392.3, "y": 11.75}, {"t": "+h(\u03c4\u03c4), 139 fb", "x": 1466.6, "y": 11.75},
  {"t": "E", "x": 1392.3, "y": 8.12}, {"t": "+Z(ll), 139 fb", "x": 1466.6, "y": 8.12},
  {"t": "E", "x": 1392.3, "y": 5.594}, {"t": "+tW, 139 fb", "x": 1466.6, "y": 5.594},
  {"t": "tbH", "x": 1390.6, "y": 3.917}, {"t": "(tb), 139 fb", "x": 1463.2, "y": 3.917},
  {"t": "tt\u0304tt\u0304, 139 fb", "x": 1390.6, "y": 2.658},
  {"t": "Combination", "x": 1390.6, "y": 1.873}]},
 "mark": {"type": "text", "font": "Liberation Sans", "fontSize": 64, "align": "left", "baseline": "alphabetic", "color": "black"},
 "encoding": {"x": {"field": "x", "type": "quantitative", "axis": null}, "y": {"field": "y", "type": "quantitative", "axis": null}, "text": {"field": "t"}}},
{"data": {"values": [
  {"t": "miss", "x": 1415.2, "y": 18.08}, {"t": "T", "x": 1417.5, "y": 15.99},
  {"t": "miss", "x": 1415.2, "y": 12.68}, {"t": "T", "x": 1417.5, "y": 11.21},
  {"t": "miss", "x": 1415.2, "y": 8.766}, {"t": "T", "x": 1417.5, "y": 7.75},
  {"t": "miss", "x": 1415.2, "y": 6.039}, {"t": "T", "x": 1417.5, "y": 5.34}]},
 "mark": {"type": "text", "font": "Liberation Sans", "fontSize": 40, "align": "left", "baseline": "alphabetic", "color": "black"},
 "encoding": {"x": {"field": "x", "type": "quantitative", "axis": null}, "y": {"field": "y", "type": "quantitative", "axis": null}, "text": {"field": "t"}}},
{"data": {"values": [
  {"t": "-1", "x": 1698.5, "y": 18.0}, {"t": "-1", "x": 1685.0, "y": 12.62}, {"t": "-1", "x": 1671.3, "y": 8.726}, {"t": "-1", "x": 1651.0, "y": 6.012},
  {"t": "\u00b1", "x": 1451.0, "y": 4.181}, {"t": "-1", "x": 1642.0, "y": 4.172}, {"t": "-1", "x": 1556.0, "y": 2.857}, {"t": "-1", "x": 1172.3, "y": 11.58},
  {"t": "JHEP 11 (2021) 209", "x": 1390.6, "y": 14.27},
  {"t": "arXiv:2305.12938", "x": 1390.6, "y": 10.10},
  {"t": "PLB 829 (2022) 137066", "x": 1390.6, "y": 6.966},
  {"t": "arXiv:2211.13138", "x": 1390.6, "y": 4.806},
  {"t": "JHEP 06 (2021) 145", "x": 1390.6, "y": 3.353},
  {"t": "arXiv:2211.01136", "x": 1390.6, "y": 2.308}]},
 "mark": {"type": "text", "font": "Liberation Sans", "fontSize": 36, "align": "left", "baseline": "alphabetic", "color": "black"},
 "encoding": {"x": {"field": "x", "type": "quantitative", "axis": null}, "y": {"field": "y", "type": "quantitative", "axis": null}, "text": {"field": "t"}}},
{"data": {"values": [
  {"t": "E", "x": 1392.3, "y": 1.574}, {"t": "+h(bb\u0305),", "x": 1453.2, "y": 1.574},
  {"t": "E", "x": 1559.8, "y": 1.574}, {"t": "+Z(ll), tbH", "x": 1621.0, "y": 1.574},
  {"t": "(tb)", "x": 1765.6, "y": 1.574}]},
 "mark": {"type": "text", "font": "Liberation Sans", "fontSize": 52, "align": "left", "baseline": "alphabetic", "color": "black"},
 "encoding": {"x": {"field": "x", "type": "quantitative", "axis": null}, "y": {"field": "y", "type": "quantitative", "axis": null}, "text": {"field": "t"}}},
{"data": {"values": [
  {"t": "miss", "x": 1412.3, "y": 1.675}, {"t": "T", "x": 1414.0, "y": 1.505},
  {"t": "miss", "x": 1580.4, "y": 1.675}, {"t": "T", "x": 1582.1, "y": 1.505},
  {"t": "\u00b1", "x": 1754.2, "y": 1.683}]},
 "mark": {"type": "text", "font": "Liberation Sans", "fontSize": 34, "align": "left", "baseline": "alphabetic", "color": "black"},
 "encoding": {"x": {"field": "x", "type": "quantitative", "axis": null}, "y": {"field": "y", "type": "quantitative", "axis": null}, "text": {"field": "t"}}},
{"data": {"values": [{"t": "m", "x": 1041.9, "y": 0.2496}]},
 "mark": {"type": "text", "font": "Liberation Sans", "fontSize": 82, "align": "left", "baseline": "alphabetic", "color": "black"},
 "encoding": {"x": {"field": "x", "type": "quantitative", "axis": null}, "y": {"field": "y", "type": "quantitative", "axis": null}, "text": {"field": "t"}}},
{"data": {"values": [{"t": "A", "x": 1081.9, "y": 0.2445}]},
 "mark": {"type": "text", "font": "Liberation Sans", "fontSize": 56, "align": "left", "baseline": "alphabetic", "color": "black"},
 "encoding": {"x": {"field": "x", "type": "quantitative", "axis": null}, "y": {"field": "y", "type": "quantitative", "axis": null}, "text": {"field": "t"}}},
{"data": {"values": [{"t": "[GeV]", "x": 1250, "y": 0.2496}]},
 "mark": {"type": "text", "font": "Liberation Sans", "fontSize": 86, "align": "right", "baseline": "alphabetic", "color": "black"},
 "encoding": {"x": {"field": "x", "type": "quantitative", "axis": null}, "y": {"field": "y", "type": "quantitative", "axis": null}, "text": {"field": "t"}}},
{"data": {"values": [{"t": "tan \u03b2", "x": 195.4, "y": 18.0}]},
 "mark": {"type": "text", "font": "Liberation Sans", "fontSize": 88, "align": "right", "baseline": "alphabetic", "angle": 270, "color": "black"},
 "encoding": {"x": {"field": "x", "type": "quantitative", "axis": null}, "y": {"field": "y", "type": "quantitative", "axis": null}, "text": {"field": "t"}}},
{"data": {"values": [{}]},
 "mark": {"type": "rule", "color": "black", "strokeWidth": 19, "strokeCap": "butt"},
 "encoding": {"x": {"datum": 1192.6, "type": "quantitative", "axis": null}, "x2": {"datum": 1910.8}, "y": {"datum": 13.79, "type": "quantitative", "axis": null}, "y2": {"datum": 10.26}}},
{"data": {"values": [{"x": 1146.5, "y": 14.04, "y2": 14.04}, {"x": 1190.6, "y": 15.05, "y2": 12.57}, {"x": 1194.6, "y": 15.15, "y2": 15.15}]},
 "mark": {"type": "area", "orient": "vertical", "color": "black"},
 "encoding": {"x": {"field": "x", "type": "quantitative", "axis": null}, "y": {"field": "y", "type": "quantitative", "axis": null, "stack": null}, "y2": {"field": "y2"}}},
{"data": {"values": [{}]},
 "mark": {"type": "rule", "color": "#1eb400", "strokeWidth": 19, "strokeCap": "butt"},
 "encoding": {"x": {"datum": 794.4, "type": "quantitative", "axis": null}, "x2": {"datum": 1553.2}, "y": {"datum": 2.098, "type": "quantitative", "axis": null}, "y2": {"datum": 0.6094}}},
{"data": {"values": [{"x": 751.5, "y": 2.252, "y2": 2.252}, {"x": 785.6, "y": 2.279, "y2": 1.921}, {"x": 803.6, "y": 2.293, "y2": 2.293}]},
 "mark": {"type": "area", "orient": "vertical", "color": "#1eb400"},
 "encoding": {"x": {"field": "x", "type": "quantitative", "axis": null}, "y": {"field": "y", "type": "quantitative", "axis": null, "stack": null}, "y2": {"field": "y2"}}},
{"data": {"values": [{"t": "Large", "x": 1806.7, "y": 0.483}, {"t": "already", "x": 1797.3, "y": 0.3497}]},
 "mark": {"type": "text", "font": "Liberation Sans", "fontSize": 113, "align": "right", "baseline": "alphabetic", "color": "black"},
 "encoding": {"x": {"field": "x", "type": "quantitative", "axis": null}, "y": {"field": "y", "type": "quantitative", "axis": null}, "text": {"field": "t"}}}
],
"resolve": {"axis": {"x": "independent", "y": "independent"}}
}
